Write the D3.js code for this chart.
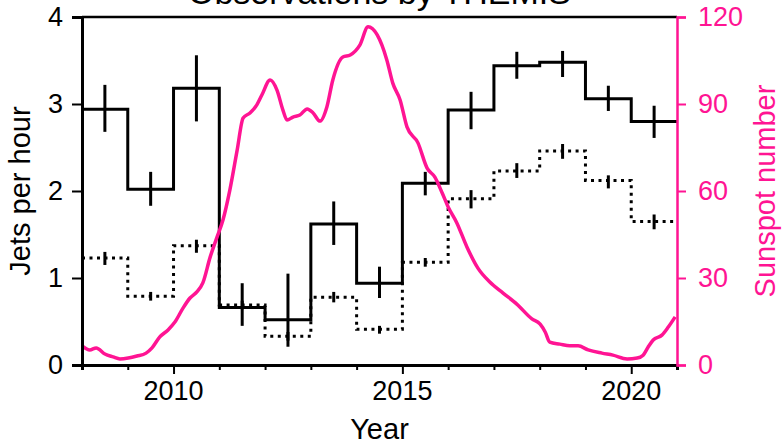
<!DOCTYPE html>
<html>
<head>
<meta charset="utf-8">
<script src="https://cdn.jsdelivr.net/npm/d3@7"></script>
<style>
  html, body { margin: 0; padding: 0; background: #fff; }
  svg { display: block; font-family: "Liberation Sans", Arial, sans-serif; }
</style>
</head>
<body>
<div id="chart"></div>
<script>
// Yearly bins (start year of each bin)
const binYears = [2008, 2009, 2010, 2011, 2012, 2013, 2014, 2015, 2016, 2017, 2018, 2019, 2020];

// Solid histogram: jets per hour with error bars
const solidRate = [2.94, 2.02, 3.18, 0.66, 0.52, 1.62, 0.94, 2.09, 2.93, 3.44, 3.48, 3.06, 2.80];
const solidHigh = [3.22, 2.22, 3.56, 0.94, 1.05, 1.88, 1.13, 2.22, 3.14, 3.60, 3.61, 3.21, 2.98];
const solidLow  = [2.68, 1.83, 2.80, 0.45, 0.21, 1.38, 0.77, 1.95, 2.71, 3.29, 3.31, 2.92, 2.61];

// Dotted histogram
const dottedRate = [1.23, 0.79, 1.37, 0.69, 0.33, 0.78, 0.41, 1.18, 1.91, 2.23, 2.46, 2.12, 1.65];
const dottedHigh = [1.30, 0.84, 1.44, 0.74, 0.38, 0.84, 0.45, 1.23, 2.01, 2.32, 2.54, 2.18, 1.73];
const dottedLow  = [1.15, 0.74, 1.29, 0.64, 0.28, 0.72, 0.36, 1.13, 1.80, 2.15, 2.37, 2.03, 1.56];

// Sunspot number (smoothed), year vs value
const sunYear = [2008.00, 2008.17, 2008.31, 2008.50, 2008.68, 2008.83, 2009.01, 2009.20, 2009.40, 2009.53,
  2009.70, 2009.88, 2010.03, 2010.21, 2010.36, 2010.51, 2010.64, 2010.80, 2010.95, 2011.08,
  2011.23, 2011.39, 2011.52, 2011.67, 2011.82, 2011.93, 2012.11, 2012.26, 2012.39, 2012.48,
  2012.61, 2012.76, 2012.92, 2013.05, 2013.20, 2013.35, 2013.48, 2013.70, 2013.86, 2014.07,
  2014.25, 2014.45, 2014.66, 2014.79, 2014.95, 2015.10, 2015.34, 2015.54, 2015.71, 2015.87,
  2016.00, 2016.19, 2016.41, 2016.65, 2016.91, 2017.20, 2017.50, 2017.83, 2018.01, 2018.12,
  2018.22, 2018.44, 2018.66, 2018.84, 2019.06, 2019.36, 2019.60, 2019.91, 2020.13, 2020.26,
  2020.37, 2020.48, 2020.67, 2020.81, 2020.96];
const sunValue = [6.6, 5.2, 5.9, 3.8, 2.8, 2.1, 2.4, 3.1, 4.1, 5.9,
  9.7, 12.1, 14.8, 19.7, 23.1, 25.2, 28.3, 37.2, 44.1, 50.0,
  60.3, 74.1, 85.2, 86.9, 89.7, 93.1, 98.3, 94.8, 87.9, 84.5,
  85.5, 86.2, 88.3, 86.9, 84.1, 89.0, 98.3, 106.2, 106.9, 110.3,
  116.6, 113.8, 105.2, 97.2, 91.4, 82.1, 76.6, 67.9, 64.8, 59.3,
  54.5, 49.0, 40.7, 33.4, 28.6, 24.8, 21.0, 15.9, 14.1, 11.4,
  7.9, 7.2, 6.6, 6.6, 5.2, 4.1, 3.4, 2.1, 2.4, 3.4,
  6.2, 8.6, 10.3, 13.1, 16.6];

const leftTicks = [0, 1, 2, 3, 4];
const rightTicks = [0, 30, 60, 90, 120];
const yearLabels = [2010, 2015, 2020];

const title = 'Observations by THEMIS';
const xLabel = 'Year';
const yLabel = 'Jets per hour';
const y2Label = 'Sunspot number';

const width = 784, height = 445;
const margin = { top: 17, right: 107, bottom: 80, left: 82 };
const pink = '#ff1493';
const tickFont = 27;
const labelFont = 29;

const svg = d3.select('#chart').append('svg')
  .attr('width', width)
  .attr('height', height);

const x = d3.scaleLinear().domain([2008, 2021]).range([margin.left, width - margin.right]);
const y = d3.scaleLinear().domain([0, 4]).range([height - margin.bottom, margin.top]);
const y2 = d3.scaleLinear().domain([0, 120]).range([height - margin.bottom, margin.top]);

// Step path through bins
function stepPath(rates) {
  const pts = [];
  rates.forEach((r, i) => {
    pts.push([x(binYears[i]), y(r)]);
    pts.push([x(binYears[i] + 1), y(r)]);
  });
  return d3.line()(pts);
}

// Frame top line
svg.append('line')
  .attr('x1', x(2008)).attr('x2', x(2021))
  .attr('y1', y(4)).attr('y2', y(4))
  .attr('stroke', '#000').attr('stroke-width', 2.5);

// Dotted histogram
svg.append('path')
  .attr('d', stepPath(dottedRate))
  .attr('fill', 'none')
  .attr('stroke', '#000')
  .attr('stroke-width', 3)
  .attr('stroke-dasharray', '3,4.5');

svg.selectAll('.dot-err')
  .data(binYears)
  .enter().append('line')
  .attr('x1', d => x(d + 0.5)).attr('x2', d => x(d + 0.5))
  .attr('y1', (d, i) => y(dottedHigh[i]))
  .attr('y2', (d, i) => y(dottedLow[i]))
  .attr('stroke', '#000').attr('stroke-width', 3);

// Solid histogram
svg.append('path')
  .attr('d', stepPath(solidRate))
  .attr('fill', 'none')
  .attr('stroke', '#000')
  .attr('stroke-width', 3);

svg.selectAll('.solid-err')
  .data(binYears)
  .enter().append('line')
  .attr('x1', d => x(d + 0.5)).attr('x2', d => x(d + 0.5))
  .attr('y1', (d, i) => y(solidHigh[i]))
  .attr('y2', (d, i) => y(solidLow[i]))
  .attr('stroke', '#000').attr('stroke-width', 3);

// Sunspot curve
const sunData = sunYear.map((yr, i) => [yr, sunValue[i]]);
svg.append('path')
  .datum(sunData)
  .attr('d', d3.line().x(d => x(d[0])).y(d => y2(d[1])).curve(d3.curveMonotoneX))
  .attr('fill', 'none')
  .attr('stroke', pink)
  .attr('stroke-width', 3.5)
  .attr('stroke-linejoin', 'round');

// Axes
const xAxis = svg.append('g')
  .attr('transform', `translate(0,${y(0)})`)
  .call(d3.axisBottom(x).tickValues(d3.range(2008, 2022)).tickSize(5).tickFormat(''));
xAxis.selectAll('.tick line')
  .attr('stroke-width', 2)
  .attr('y2', d => yearLabels.includes(d) ? 9 : 5);
xAxis.select('.domain').attr('stroke-width', 3);

svg.selectAll('.xlab')
  .data(yearLabels)
  .enter().append('text')
  .attr('x', d => x(d))
  .attr('y', 400)
  .attr('text-anchor', 'middle')
  .attr('font-size', tickFont)
  .text(d => d);

const yAxis = svg.append('g')
  .attr('transform', `translate(${x(2008)},0)`)
  .call(d3.axisLeft(y).tickValues(leftTicks).tickSize(10).tickPadding(9).tickFormat(d3.format('d')));
yAxis.select('.domain').attr('stroke-width', 3);
yAxis.selectAll('.tick line').attr('stroke-width', 2);
yAxis.selectAll('.tick text').attr('font-size', tickFont).attr('fill', '#000')
  .attr('font-family', '"Liberation Sans", Arial, sans-serif');

const y2Axis = svg.append('g')
  .attr('transform', `translate(${x(2021)},0)`)
  .call(d3.axisRight(y2).tickValues(rightTicks).tickSize(9).tickPadding(12));
y2Axis.select('.domain').attr('stroke', pink).attr('stroke-width', 2.5);
y2Axis.selectAll('.tick line').attr('stroke', pink).attr('stroke-width', 2);
y2Axis.selectAll('.tick text').attr('font-size', tickFont).attr('fill', pink)
  .attr('font-family', '"Liberation Sans", Arial, sans-serif');

// Labels
svg.append('text')
  .attr('x', (x(2008) + x(2021)) / 2)
  .attr('y', 439)
  .attr('text-anchor', 'middle')
  .attr('font-size', labelFont)
  .text(xLabel);

svg.append('text')
  .attr('transform', `translate(30,${(y(0) + y(4)) / 2}) rotate(-90)`)
  .attr('text-anchor', 'middle')
  .attr('font-size', labelFont)
  .text(yLabel);

svg.append('text')
  .attr('transform', `translate(775,${(y(0) + y(4)) / 2}) rotate(-90)`)
  .attr('text-anchor', 'middle')
  .attr('font-size', labelFont)
  .attr('fill', pink)
  .text(y2Label);

// Title sits mostly above the frame, as in the original
svg.append('text')
  .attr('x', (x(2008) + x(2021)) / 2)
  .attr('y', 4)
  .attr('text-anchor', 'middle')
  .attr('font-size', 34)
  .text(title);
</script>
</body>
</html>
